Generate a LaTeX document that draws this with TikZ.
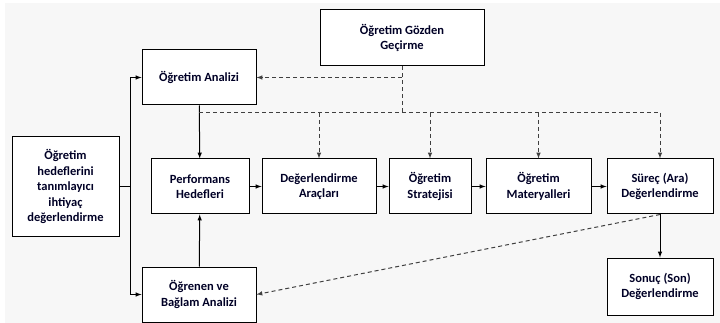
\documentclass[tikz,border=0pt]{standalone}
\usepackage{fontspec}
\setmainfont{Carlito}
\usetikzlibrary{arrows}

\begin{document}
\begin{tikzpicture}[x=1pt,y=-1pt,>=latex,
	box/.style={draw,line width=1pt,fill=white,align=center,inner sep=1pt,
		font=\fontsize{12.5}{15.5}\selectfont\bfseries,text=black!85!blue},
	dashlink/.style={dash pattern=on 4pt off 3pt,line width=1pt,black!75}]
	\useasboundingbox (0,0) rectangle (720,323);
	\fill[black!3] (5,3) rectangle (720,323);
	% boxes
	\node[box,minimum width=164pt,minimum height=56pt] (gozden) at (402,38) {Öğretim Gözden\\Geçirme};
	\node[box,minimum width=114pt,minimum height=55pt] (ana) at (199,77.5) {Öğretim Analizi};
	\node[box,minimum width=107pt,minimum height=99pt] (need) at (65.5,186.5) {Öğretim\\hedeflerini\\tanımlayıcı\\ihtiyaç\\değerlendirme};
	\node[box,minimum width=98pt,minimum height=55pt] (perf) at (200,186.5) {Performans\\Hedefleri};
	\node[box,minimum width=114pt,minimum height=55pt] (arac) at (319,186.5) {Değerlendirme\\Araçları};
	\node[box,minimum width=82pt,minimum height=55pt] (strat) at (430,186.5) {Öğretim\\Stratejisi};
	\node[box,minimum width=105pt,minimum height=55pt] (mat) at (538.5,186.5) {Öğretim\\Materyalleri};
	\node[box,minimum width=106pt,minimum height=55pt] (surec) at (660,186.5) {Süreç (Ara)\\Değerlendirme};
	\node[box,minimum width=106pt,minimum height=57pt] (sonuc) at (660,286.5) {Sonuç (Son)\\Değerlendirme};
	\node[box,minimum width=114pt,minimum height=55pt] (ogr) at (199,294.5) {Öğrenen ve\\Bağlam Analizi};
	% solid links
	\coordinate (sp) at (130,186.5);
	\draw[line width=1pt] (need) -- (sp);
	\draw[->,line width=1pt] (sp) |- (ana);
	\draw[->,line width=1pt] (sp) |- (ogr);
	\path[->,line width=1pt]
	(ana)   edge (perf)
	(ogr)   edge (perf)
	(perf)  edge (arac)
	(arac)  edge (strat)
	(strat) edge (mat)
	(mat)   edge (surec)
	(surec) edge (sonuc)
	;
	% dashed links
	\coordinate (bus) at (402,113);
	\draw[dashlink] (gozden) -- (bus);
	\draw[dashlink,->] (gozden.south |- ana) -- (ana);
	\draw[dashlink] (ana.south |- bus) -- (surec.north |- bus);
	\path[dashlink,->]
	(arac.north |- bus)  edge (arac)
	(strat.north |- bus) edge (strat)
	(mat.north |- bus)   edge (mat)
	(surec.north |- bus) edge (surec)
	;
	\draw[dashlink,->] (surec.south) -- (ogr.east);
\end{tikzpicture}
\end{document}
